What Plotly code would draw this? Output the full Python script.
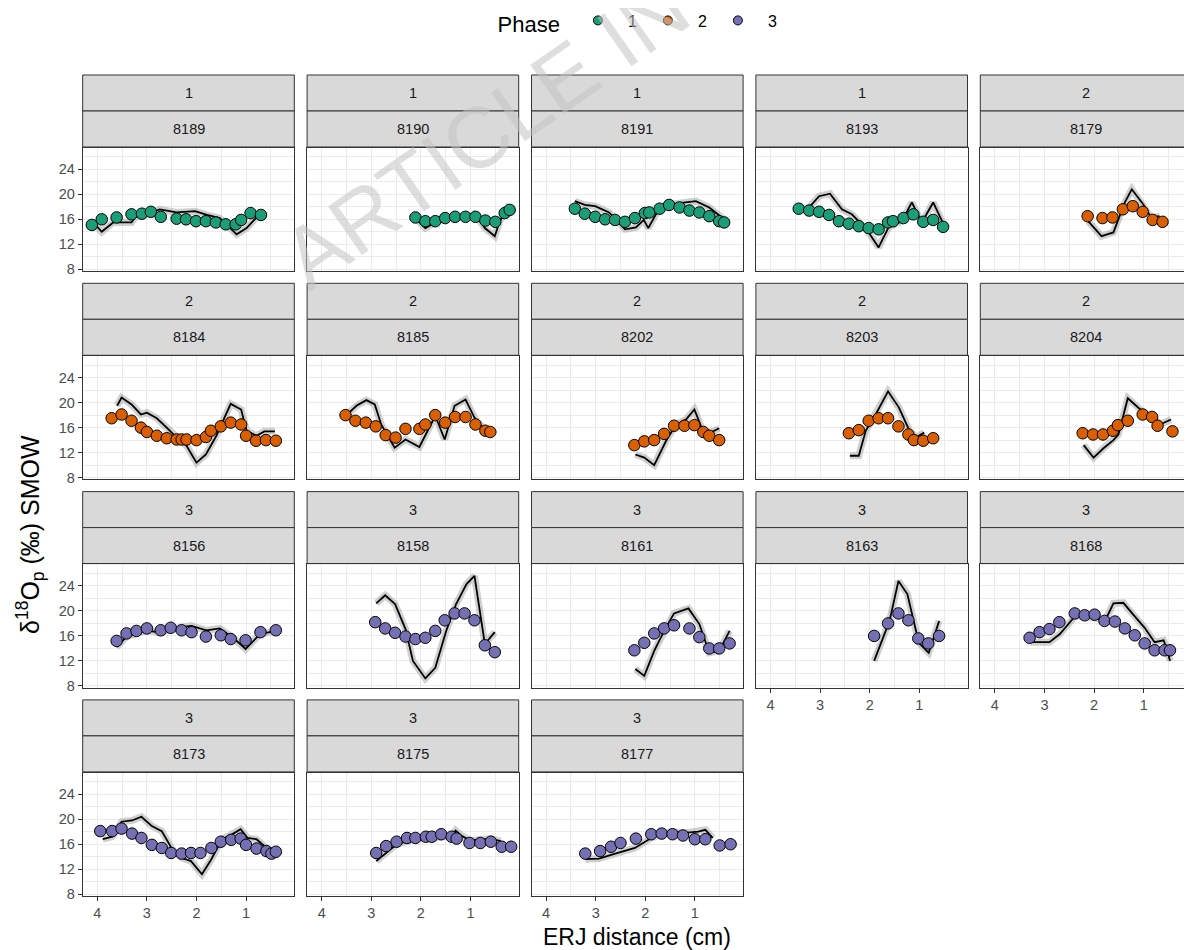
import plotly.graph_objects as go

# ---------------- data ----------------
panel_ids = ["8189", "8190", "8191", "8193", "8179",
             "8184", "8185", "8202", "8203", "8204",
             "8156", "8158", "8161", "8163", "8168",
             "8173", "8175", "8177"]
panel_phase = [1, 1, 1, 1, 2,
               2, 2, 2, 2, 2,
               3, 3, 3, 3, 3,
               3, 3, 3]
phase_names = ["1", "2", "3"]
phase_colors = ["#1B9E77", "#D95F02", "#7570B3"]
x_ticks = [1, 2, 3, 4]
y_ticks = [8, 12, 16, 20, 24]

# observed points (ERJ distance cm, d18Op)
x_8189 = [4.11, 3.91, 3.61, 3.31, 3.10, 2.92, 2.72, 2.40, 2.21, 2.01, 1.81, 1.61, 1.41, 1.21, 1.10, 0.91, 0.70]
y_8189 = [15.1, 16.0, 16.3, 16.8, 16.9, 17.2, 16.4, 16.1, 16.0, 15.7, 15.7, 15.5, 15.2, 15.2, 15.9, 17.0, 16.7]
fx_8189 = [4.08, 3.91, 3.68, 3.31, 3.24, 3.00, 2.74, 2.40, 2.03, 1.79, 1.53, 1.19, 0.99, 0.79, 0.70]
fy_8189 = [15.5, 14.0, 15.5, 15.5, 16.3, 16.9, 17.6, 17.1, 17.3, 16.7, 16.2, 13.6, 14.6, 16.3, 17.4]

x_8190 = [2.11, 1.91, 1.71, 1.51, 1.31, 1.10, 0.90, 0.70, 0.50, 0.31, 0.21]
y_8190 = [16.3, 15.7, 15.7, 16.2, 16.4, 16.4, 16.4, 15.8, 15.6, 17.0, 17.5]
fx_8190 = [2.11, 1.91, 1.71, 1.49, 0.88, 0.71, 0.51, 0.41, 0.21]
fy_8190 = [16.2, 14.6, 15.5, 16.3, 16.5, 14.6, 13.3, 15.7, 18.4]

x_8191 = [3.42, 3.22, 3.01, 2.81, 2.61, 2.41, 2.21, 2.01, 1.92, 1.71, 1.52, 1.31, 1.11, 0.91, 0.71, 0.51, 0.41]
y_8191 = [17.7, 16.9, 16.4, 16.0, 15.9, 15.6, 16.2, 17.0, 17.1, 17.7, 18.3, 17.9, 17.4, 17.1, 16.5, 15.7, 15.5]
fx_8191 = [3.42, 3.22, 3.01, 2.73, 2.41, 2.19, 2.03, 1.94, 1.73, 1.52, 0.98, 0.71, 0.41]
fy_8191 = [18.9, 18.3, 18.1, 17.1, 14.4, 14.7, 15.9, 14.6, 17.6, 18.4, 18.9, 17.9, 16.0]

x_8193 = [3.43, 3.22, 3.02, 2.82, 2.62, 2.42, 2.22, 2.02, 1.82, 1.63, 1.53, 1.32, 1.12, 0.92, 0.72, 0.52]
y_8193 = [17.7, 17.4, 17.2, 16.7, 15.7, 15.3, 14.9, 14.6, 14.4, 15.5, 15.7, 16.2, 16.8, 15.6, 15.9, 14.8]
fx_8193 = [3.22, 3.02, 2.80, 2.56, 2.36, 2.16, 2.02, 1.82, 1.62, 1.35, 1.15, 0.95, 0.72, 0.54]
fy_8193 = [17.9, 19.7, 20.1, 17.6, 16.8, 15.2, 13.9, 11.5, 14.7, 15.7, 18.7, 15.5, 18.7, 15.7]

x_8179 = [2.13, 1.83, 1.63, 1.42, 1.22, 1.02, 0.82, 0.62]
y_8179 = [16.5, 16.2, 16.3, 17.6, 18.1, 17.2, 15.9, 15.6]
fx_8179 = [2.12, 1.85, 1.61, 1.38, 1.24, 1.01, 0.85, 0.68]
fy_8179 = [15.7, 13.3, 13.9, 18.7, 20.8, 18.4, 16.3, 16.5]

x_8184 = [3.71, 3.51, 3.31, 3.12, 3.00, 2.80, 2.60, 2.40, 2.30, 2.20, 2.00, 1.81, 1.71, 1.51, 1.31, 1.10, 1.00, 0.80, 0.60, 0.40]
y_8184 = [17.5, 18.1, 17.1, 16.0, 15.3, 14.7, 14.3, 14.1, 14.1, 14.1, 14.0, 14.5, 15.5, 16.2, 16.8, 16.5, 14.7, 13.9, 14.0, 13.9]
fx_8184 = [3.60, 3.51, 3.31, 3.12, 3.00, 2.80, 2.60, 2.40, 2.20, 2.00, 1.81, 1.60, 1.31, 1.10, 0.99, 0.79, 0.63, 0.42]
fy_8184 = [19.5, 20.8, 19.7, 18.1, 18.4, 17.5, 16.0, 14.4, 13.1, 10.4, 11.7, 14.7, 19.8, 18.9, 15.5, 14.7, 15.4, 15.4]

x_8185 = [3.52, 3.32, 3.11, 2.91, 2.71, 2.51, 2.31, 2.03, 1.91, 1.71, 1.51, 1.31, 1.10, 0.90, 0.70, 0.60]
y_8185 = [18.0, 17.1, 16.8, 16.2, 14.8, 14.4, 15.8, 15.8, 16.5, 18.0, 16.8, 17.7, 17.7, 16.5, 15.5, 15.3]
fx_8185 = [3.50, 3.30, 3.10, 2.93, 2.80, 2.53, 2.31, 2.03, 1.71, 1.52, 1.32, 1.10, 0.92, 0.72, 0.62]
fy_8185 = [18.0, 19.5, 20.4, 19.7, 16.5, 12.8, 14.1, 12.9, 17.9, 14.1, 19.5, 20.5, 17.6, 15.7, 15.6]

x_8202 = [2.22, 2.02, 1.82, 1.62, 1.42, 1.21, 1.01, 0.83, 0.71, 0.51]
y_8202 = [13.2, 13.8, 14.0, 15.0, 16.3, 16.3, 16.4, 15.3, 14.7, 14.0]
fx_8202 = [2.20, 2.02, 1.82, 1.58, 1.38, 1.18, 1.01, 0.84, 0.68, 0.51]
fy_8202 = [11.7, 11.2, 10.0, 13.9, 16.5, 17.3, 18.9, 15.5, 15.2, 15.9]

x_8203 = [2.42, 2.22, 2.02, 1.82, 1.63, 1.42, 1.22, 1.11, 0.92, 0.72]
y_8203 = [15.1, 15.6, 17.1, 17.5, 17.5, 16.2, 14.9, 14.0, 13.9, 14.3]
fx_8203 = [2.40, 2.22, 2.08, 1.88, 1.63, 1.41, 1.21, 1.07, 0.90]
fy_8203 = [11.5, 11.5, 15.5, 18.1, 21.8, 19.2, 15.7, 14.4, 15.2]

x_8204 = [2.23, 2.02, 1.82, 1.62, 1.52, 1.32, 1.02, 0.83, 0.72, 0.42]
y_8204 = [15.1, 14.9, 14.9, 15.5, 16.4, 17.1, 18.1, 17.7, 16.3, 15.4]
fx_8204 = [2.21, 2.01, 1.81, 1.61, 1.51, 1.32, 1.04, 0.83, 0.67, 0.45]
fy_8204 = [13.2, 11.2, 12.7, 14.0, 14.9, 20.7, 18.7, 17.6, 16.5, 17.3]

x_8156 = [3.61, 3.41, 3.21, 3.00, 2.72, 2.52, 2.30, 2.10, 1.81, 1.51, 1.31, 1.01, 0.71, 0.40]
y_8156 = [15.2, 16.4, 16.8, 17.2, 16.9, 17.3, 16.9, 16.6, 15.9, 16.1, 15.5, 15.3, 16.6, 16.9]
fx_8156 = [3.61, 3.41, 3.00, 2.73, 2.33, 2.10, 1.80, 1.53, 1.26, 1.01, 0.72, 0.40]
fy_8156 = [14.2, 15.9, 16.9, 16.5, 17.4, 17.6, 16.9, 17.2, 15.7, 13.9, 16.3, 16.8]

x_8158 = [2.92, 2.72, 2.52, 2.31, 2.11, 1.91, 1.71, 1.52, 1.32, 1.12, 0.92, 0.71, 0.51]
y_8158 = [18.2, 17.2, 16.5, 15.9, 15.5, 15.7, 16.8, 18.5, 19.6, 19.6, 18.5, 14.5, 13.4]
fx_8158 = [2.90, 2.72, 2.52, 2.31, 2.16, 1.91, 1.71, 1.49, 1.29, 1.08, 0.92, 0.71, 0.51]
fy_8158 = [21.2, 22.5, 21.1, 17.1, 12.0, 9.2, 10.9, 16.8, 21.1, 24.3, 25.6, 14.7, 16.6]

x_8161 = [2.22, 2.02, 1.82, 1.62, 1.42, 1.11, 0.91, 0.71, 0.51, 0.30]
y_8161 = [13.7, 14.9, 16.4, 17.2, 17.7, 17.2, 15.8, 14.0, 14.0, 14.8]
fx_8161 = [2.20, 2.02, 1.82, 1.62, 1.42, 1.13, 0.91, 0.71, 0.51, 0.30]
fy_8161 = [10.7, 9.6, 13.6, 16.8, 19.6, 20.4, 17.9, 13.3, 13.6, 16.8]

x_8163 = [1.91, 1.63, 1.42, 1.22, 1.02, 0.82, 0.60]
y_8163 = [16.0, 18.0, 19.6, 18.5, 15.6, 14.8, 16.0]
fx_8163 = [1.91, 1.60, 1.42, 1.24, 1.01, 0.81, 0.60]
fy_8163 = [12.0, 18.4, 24.8, 22.7, 14.9, 13.3, 18.4]

x_8168 = [3.30, 3.10, 2.90, 2.70, 2.39, 2.19, 1.99, 1.79, 1.58, 1.38, 1.18, 0.98, 0.78, 0.58, 0.47]
y_8168 = [15.7, 16.6, 17.1, 18.2, 19.6, 19.3, 19.4, 18.4, 18.3, 17.2, 16.1, 14.8, 13.7, 13.7, 13.7]
fx_8168 = [3.29, 2.90, 2.69, 2.38, 1.98, 1.78, 1.61, 1.41, 1.21, 0.98, 0.78, 0.60, 0.53, 0.47]
fy_8168 = [15.0, 15.0, 16.3, 19.2, 18.9, 18.4, 21.2, 21.3, 19.4, 17.3, 15.0, 15.3, 13.9, 12.0]

x_8173 = [3.94, 3.70, 3.51, 3.30, 3.11, 2.90, 2.70, 2.51, 2.30, 2.11, 1.92, 1.70, 1.51, 1.30, 1.11, 1.00, 0.79, 0.59, 0.49, 0.40]
y_8173 = [18.1, 18.1, 18.5, 17.7, 17.0, 15.9, 15.4, 14.6, 14.5, 14.6, 14.6, 15.4, 16.4, 16.7, 16.9, 15.9, 15.3, 14.9, 14.5, 14.8]
fx_8173 = [3.89, 3.70, 3.51, 3.30, 3.11, 2.90, 2.70, 2.49, 2.30, 2.11, 1.89, 1.70, 1.49, 1.30, 1.11, 0.97, 0.79, 0.59, 0.40]
fy_8173 = [16.8, 17.2, 19.6, 19.8, 20.4, 18.9, 18.1, 15.2, 13.8, 13.3, 11.2, 13.6, 16.8, 17.5, 18.4, 17.0, 16.8, 15.4, 13.8]

x_8175 = [2.90, 2.70, 2.49, 2.28, 2.11, 1.90, 1.78, 1.59, 1.38, 1.28, 1.02, 0.80, 0.59, 0.37, 0.18]
y_8175 = [14.6, 15.7, 16.4, 17.0, 17.0, 17.2, 17.2, 17.6, 17.2, 16.9, 16.2, 16.2, 16.4, 15.6, 15.6]
fx_8175 = [2.90, 2.49, 2.11, 1.59, 1.38, 1.30, 1.17, 1.01, 0.59, 0.39]
fy_8175 = [13.3, 16.0, 16.8, 17.3, 17.3, 18.2, 17.3, 16.6, 16.9, 16.5]

x_8177 = [3.21, 2.91, 2.69, 2.50, 2.19, 1.88, 1.67, 1.45, 1.24, 1.00, 0.79, 0.50, 0.28]
y_8177 = [14.5, 14.9, 15.6, 16.2, 16.9, 17.6, 17.7, 17.6, 17.4, 16.8, 16.8, 15.8, 16.0]
fx_8177 = [3.21, 2.93, 2.64, 2.21, 1.88, 1.50, 1.21, 0.93, 0.79, 0.64]
fy_8177 = [13.6, 13.7, 14.4, 15.4, 17.0, 18.0, 17.8, 18.0, 18.3, 17.0]

obs_x = [x_8189, x_8190, x_8191, x_8193, x_8179, x_8184, x_8185, x_8202, x_8203, x_8204,
         x_8156, x_8158, x_8161, x_8163, x_8168, x_8173, x_8175, x_8177]
obs_y = [y_8189, y_8190, y_8191, y_8193, y_8179, y_8184, y_8185, y_8202, y_8203, y_8204,
         y_8156, y_8158, y_8161, y_8163, y_8168, y_8173, y_8175, y_8177]
fit_x = [fx_8189, fx_8190, fx_8191, fx_8193, fx_8179, fx_8184, fx_8185, fx_8202, fx_8203, fx_8204,
         fx_8156, fx_8158, fx_8161, fx_8163, fx_8168, fx_8173, fx_8175, fx_8177]
fit_y = [fy_8189, fy_8190, fy_8191, fy_8193, fy_8179, fy_8184, fy_8185, fy_8202, fy_8203, fy_8204,
         fy_8156, fy_8158, fy_8161, fy_8163, fy_8168, fy_8173, fy_8175, fy_8177]

# ---------------- layout geometry (page pixels) ----------------
PAGE_W, PAGE_H = 1192, 950
OFF = 8                      # default body margin of the html page
W, H = PAGE_W - OFF, PAGE_H - OFF


def xp(x):
    return (x - OFF) / W


def yp(y):
    return 1 - (y - OFF) / H


NCOL = 5
COL_LEFT0, COL_PITCH, PANEL_W = 82.7, 224.4, 211.6
STRIP_TOP0, STRIP_H, PANEL_H, ROW_PITCH = 75.0, 36.0, 123.3, 208.3
X_RANGE = [4.294, 0.028]
Y_RANGE = [7.73, 27.46]

FONT = "Liberation Sans, Arial, Helvetica, sans-serif"
GRID = "#EBEBEB"
BORDER = "#333333"
TICKFONT = dict(size=14.5, color="#4D4D4D", family=FONT)

fig = go.Figure()
shapes = []
annotations = []
n = len(panel_ids)
bottom_row_of_col = {}
for i in range(n):
    r, c = divmod(i, NCOL)
    bottom_row_of_col[c] = r

for i in range(n):
    r, c = divmod(i, NCOL)
    k = "" if i == 0 else str(i + 1)
    left = COL_LEFT0 + COL_PITCH * c
    right = min(left + PANEL_W, PAGE_W)
    s_top = STRIP_TOP0 + ROW_PITCH * r
    s_mid = s_top + STRIP_H
    p_top = s_mid + STRIP_H + 0.7
    p_bot = p_top + PANEL_H
    xd = [xp(left), min(xp(right), 1.0)]
    yd = [yp(p_bot), yp(p_top)]
    show_x = bottom_row_of_col[c] == r
    show_y = c == 0

    fig.layout["xaxis" + k] = dict(
        domain=xd, anchor="y" + k, range=X_RANGE, tickmode="array", tickvals=x_ticks,
        showticklabels=show_x, ticks="outside" if show_x else "", ticklen=4, tickwidth=1,
        tickcolor=BORDER, tickfont=TICKFONT, automargin=False,
        showgrid=True, gridcolor=GRID, gridwidth=1.4,
        minor=dict(dtick=0.5, tick0=0, showgrid=True, gridcolor=GRID, gridwidth=0.7),
        showline=True, mirror=True, linecolor=BORDER, linewidth=1, zeroline=False,
    )
    fig.layout["yaxis" + k] = dict(
        domain=yd, anchor="x" + k, range=Y_RANGE, tickmode="array", tickvals=y_ticks,
        showticklabels=show_y, ticks="outside" if show_y else "", ticklen=4, tickwidth=1,
        tickcolor=BORDER, tickfont=TICKFONT, automargin=False,
        showgrid=True, gridcolor=GRID, gridwidth=1.4,
        minor=dict(dtick=2, tick0=0, showgrid=True, gridcolor=GRID, gridwidth=0.7),
        showline=True, mirror=True, linecolor=BORDER, linewidth=1, zeroline=False,
    )

    # strips
    for (t, b, label) in [(s_top, s_mid, str(panel_phase[i])), (s_mid, s_mid + STRIP_H, panel_ids[i])]:
        shapes.append(dict(type="rect", xref="paper", yref="paper", x0=xp(left), x1=xp(right),
                           y0=yp(b), y1=yp(t), fillcolor="#D9D9D9",
                           line=dict(color=BORDER, width=1), layer="below"))
        annotations.append(dict(xref="paper", yref="paper", x=xp(left + PANEL_W / 2),
                                y=yp((t + b) / 2), text=label, showarrow=False,
                                xanchor="center", yanchor="middle",
                                font=dict(size=14.5, color="#1A1A1A", family=FONT)))

    col = phase_colors[panel_phase[i] - 1]
    xa, ya = "x" + k, "y" + k
    # confidence ribbon (rendered as a wide translucent band behind the fit)
    fig.add_trace(go.Scatter(x=fit_x[i], y=fit_y[i], xaxis=xa, yaxis=ya, mode="lines",
                             line=dict(color="rgba(150,150,150,0.45)", width=7),
                             showlegend=False, hoverinfo="skip"))
    fig.add_trace(go.Scatter(x=fit_x[i], y=fit_y[i], xaxis=xa, yaxis=ya, mode="lines",
                             line=dict(color="black", width=1.8),
                             showlegend=False, hoverinfo="skip"))
    fig.add_trace(go.Scatter(x=obs_x[i], y=obs_y[i], xaxis=xa, yaxis=ya, mode="markers",
                             marker=dict(size=11.5, color=col, line=dict(color="black", width=1)),
                             showlegend=False, name=panel_ids[i]))

# legend entries
for name, col in zip(phase_names, phase_colors):
    fig.add_trace(go.Scatter(x=[None], y=[None], xaxis="x", yaxis="y", mode="markers",
                             name=name, marker=dict(size=9, color=col, line=dict(color="black", width=1)),
                             showlegend=True))

# axis titles
annotations.append(dict(xref="paper", yref="paper", x=xp(637.3), y=yp(937),
                        text="ERJ distance (cm)", showarrow=False, xanchor="center", yanchor="middle",
                        font=dict(size=23, color="black", family=FONT)))
annotations.append(dict(xref="paper", yref="paper", x=xp(30), y=yp(535),
                        text="δ<sup>18</sup>O<sub>p</sub> (‰) SMOW", showarrow=False, textangle=-90,
                        xanchor="center", yanchor="middle",
                        font=dict(size=25, color="black", family=FONT)))
# watermark
annotations.append(dict(xref="paper", yref="paper", x=xp(614), y=yp(42),
                        text="ARTICLE IN PRESS", showarrow=False, textangle=-35,
                        xanchor="center", yanchor="middle",
                        font=dict(size=86, color="rgba(195,195,195,0.55)", family=FONT)))

fig.update_layout(
    width=W, height=H, margin=dict(l=0, r=0, t=0, b=0, autoexpand=False),
    paper_bgcolor="white", plot_bgcolor="white",
    font=dict(family=FONT),
    shapes=shapes, annotations=annotations,
    legend=dict(orientation="h", x=xp(637), xanchor="center", y=yp(23), yanchor="middle",
                title=dict(text="Phase", font=dict(size=22, color="black", family=FONT)),
                font=dict(size=16, color="black", family=FONT), bgcolor="rgba(0,0,0,0)",
                itemwidth=50, entrywidth=5, itemsizing="trace"),
)

fig.write_html("out.html")
